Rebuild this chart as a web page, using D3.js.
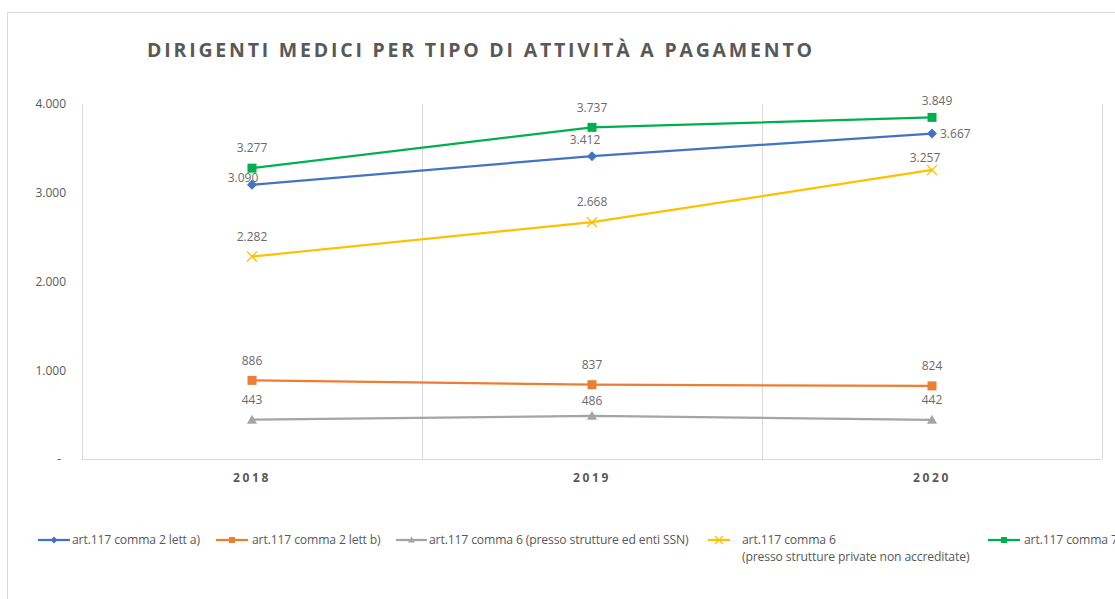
<!DOCTYPE html>
<html>
<head>
<meta charset="utf-8">
<script src="https://cdn.jsdelivr.net/npm/d3@7"></script>
<style>
  html, body { margin: 0; padding: 0; background: #fff; }
  svg { display: block; }
  text { font-family: "Open Sans", "Liberation Sans", sans-serif; }
</style>
</head>
<body>
<svg id="chart" width="1115" height="599"></svg>
<script>
// ---- data ----
const title = "DIRIGENTI MEDICI PER TIPO DI ATTIVITÀ A PAGAMENTO";
const years = ["2018", "2019", "2020"];
const yTicks = [0, 1000, 2000, 3000, 4000];
const seriesNames = [
  "art.117 comma 2 lett a)",
  "art.117 comma 2 lett b)",
  "art.117 comma 6 (presso strutture ed enti SSN)",
  "art.117 comma 6\n(presso strutture private non accreditate)",
  "art.117 comma 7"
];
const lettA = [3090, 3412, 3667];
const lettB = [886, 837, 824];
const comma6SSN = [443, 486, 442];
const comma6Private = [2282, 2668, 3257];
const comma7 = [3277, 3737, 3849];

// ---- style ----
const colors = ["#4472C4", "#ED7D31", "#A5A5A5", "#FFC000", "#00B050"];
const markers = ["diamond", "square", "triangle", "x", "square"];
// label offsets per series/point [dx, dy] relative to point (style only)
const labelOffsets = [
  [[-9, -7], [-7, -16], [8, 0, "start"]],
  [[0, -20], [0, -20], [0, -20]],
  [[0, -20], [0, -15], [0, -20]],
  [[0, -20], [0, -20], [-7, -12]],
  [[0, -20], [0, -20], [5, -17]]
];
const seriesValues = [lettA, lettB, comma6SSN, comma6Private, comma7];

const svg = d3.select("#chart");
const fmt = v => v === 0 ? "-" : d3.format(",")(v).replace(/,/g, ".");

// outer chart border
svg.append("path")
  .attr("d", "M7.5,620 V12.5 H1130")
  .attr("fill", "none").attr("stroke", "#d9d9d9").attr("stroke-width", 1);

const plot = { left: 82, right: 1102, top: 104, bottom: 459 };

const x = d3.scaleBand().domain(years).range([plot.left, plot.right]).padding(0);
const y = d3.scaleLinear().domain([0, 4000]).range([plot.bottom, plot.top]);

// title
svg.append("text")
  .attr("x", 147).attr("y", 57)
  .attr("textLength", 665).attr("lengthAdjust", "spacing")
  .attr("font-size", 19.5).attr("font-weight", 700)
  .attr("fill", "#595959")
  .text(title);

// vertical gridlines at category boundaries
const bounds = years.map(d => x(d)).concat([x(years[years.length - 1]) + x.bandwidth()]);
svg.append("g").selectAll("line").data(bounds).join("line")
  .attr("x1", d => d + 0.5).attr("x2", d => d + 0.5)
  .attr("y1", plot.top).attr("y2", plot.bottom)
  .attr("stroke", "#d9d9d9").attr("stroke-width", 1);

// x axis
const xAxis = svg.append("g")
  .attr("transform", `translate(0,${plot.bottom + 0.5})`)
  .call(d3.axisBottom(x).tickSize(0).tickPadding(14));
xAxis.select(".domain").attr("stroke", "#d9d9d9").attr("d", `M${plot.left},0H${plot.right}`);
xAxis.selectAll("text")
  .attr("font-size", 12).attr("font-weight", 700)
  .attr("fill", "#595959").attr("letter-spacing", "2.6px")
  .attr("font-family", "'Open Sans', sans-serif");

// y axis labels
const yAxis = svg.append("g")
  .attr("transform", `translate(${plot.left},0)`)
  .call(d3.axisLeft(y).tickValues(yTicks).tickSize(0).tickPadding(16).tickFormat(fmt));
yAxis.select(".domain").remove();
yAxis.selectAll("text")
  .attr("font-size", 12).attr("fill", "#595959")
  .attr("font-family", "'Open Sans', sans-serif")
  .attr("dx", d => d === 0 ? -5 : 0);

// marker generator
function drawMarker(g, type, color, size) {
  const s = size;
  if (type === "diamond") {
    g.append("path").attr("d", `M0,${-s / 2}L${s / 2},0L0,${s / 2}L${-s / 2},0Z`).attr("fill", color);
  } else if (type === "square") {
    g.append("rect").attr("x", -s / 2 + 0.5).attr("y", -s / 2 + 0.5).attr("width", s - 1).attr("height", s - 1).attr("fill", color);
  } else if (type === "triangle") {
    g.append("path").attr("d", `M0,${-s / 2}L${s / 2},${s / 2 - 1}L${-s / 2},${s / 2 - 1}Z`).attr("fill", color);
  } else if (type === "x") {
    const h = s / 2;
    g.append("path").attr("d", `M${-h},${-h}L${h},${h}M${-h},${h}L${h},${-h}`)
      .attr("stroke", color).attr("stroke-width", 1.3).attr("fill", "none");
  }
}

const cx = d => x(d) + x.bandwidth() / 2;
const line = d3.line().x((d, i) => cx(years[i])).y(d => y(d));

seriesValues.forEach((vals, si) => {
  const g = svg.append("g");
  g.append("path").datum(vals)
    .attr("d", line).attr("fill", "none")
    .attr("stroke", colors[si]).attr("stroke-width", 2.25)
    .attr("stroke-linejoin", "round").attr("stroke-linecap", "round");
  vals.forEach((v, i) => {
    const mg = g.append("g").attr("transform", `translate(${cx(years[i])},${y(v)})`);
    drawMarker(mg, markers[si], colors[si], 10);
  });
});

// data labels
seriesValues.forEach((vals, si) => {
  vals.forEach((v, i) => {
    const off = labelOffsets[si][i];
    svg.append("text")
      .attr("x", cx(years[i]) + off[0])
      .attr("y", y(v) + off[1])
      .attr("dy", "0.35em")
      .attr("text-anchor", off[2] || "middle")
      .attr("font-size", 12).attr("fill", "#6b6b6b")
      .text(fmt(v));
  });
});

// legend
const legendLineX = [38, 216, 396, 708, 988];
const legendLineW = [32, 32, 31, 22, 32];
const legendTextX = [72, 252, 429, 742, 1024];
const legendY = 540;
seriesNames.forEach((name, si) => {
  const g = svg.append("g").attr("transform", `translate(0,${legendY})`);
  const lx = legendLineX[si], lw = legendLineW[si];
  g.append("line").attr("x1", lx).attr("x2", lx + lw).attr("y1", 0).attr("y2", 0)
    .attr("stroke", colors[si]).attr("stroke-width", 2.25);
  const mg = g.append("g").attr("transform", `translate(${lx + lw / 2},0)`);
  drawMarker(mg, markers[si], colors[si], markers[si] === "x" ? 8 : 7);
  const t = g.append("text").attr("x", legendTextX[si]).attr("y", 0)
    .attr("font-size", 12.2).attr("fill", "#595959").attr("letter-spacing", "-0.15px");
  name.split("\n").forEach((ln, li) => {
    t.append("tspan").attr("x", legendTextX[si]).attr("dy", li === 0 ? "0.35em" : "1.4em").text(ln);
  });
});
</script>
</body>
</html>
